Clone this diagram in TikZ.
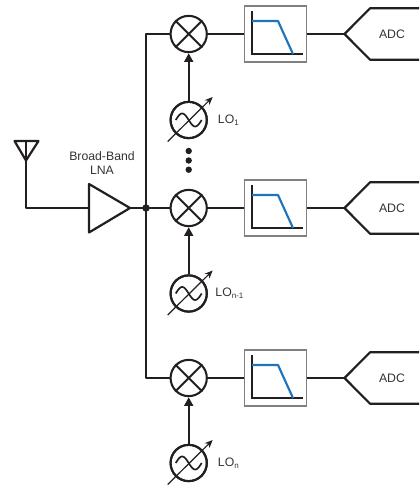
\documentclass[tikz,border=0pt]{standalone}
\usepackage{fontspec}
\setmainfont{Liberation Sans}
\usetikzlibrary{arrows.meta,calc}
\definecolor{txt}{HTML}{333333}
\definecolor{wire}{HTML}{231F20}
\definecolor{boxgray}{HTML}{808080}
\definecolor{lpblue}{HTML}{1F74BC}
\newcommand{\losub}[1]{LO\raisebox{-1.6pt}{\fontsize{6pt}{7pt}\selectfont #1}}
\tikzset{
  wirel/.style={draw=wire,line width=1.65pt,line join=round},
  thinw/.style={draw=wire,line width=1.25pt,line join=round},
  circ/.style={circle,draw=wire,line width=1.55pt,minimum size=27.2pt,inner sep=0pt,fill=white},
  filt/.style={rectangle,draw=boxgray,line width=1.1pt,minimum width=46.6pt,minimum height=42.2pt,inner sep=0pt,fill=white},
  lbl/.style={text=txt,font=\fontsize{9.2pt}{11pt}\selectfont,inner sep=0pt},
  lo/.style={text=txt,font=\fontsize{9.2pt}{11pt}\selectfont,inner sep=0pt,anchor=west},
  feed/.style={wirel,-{Triangle[length=6.5pt,width=6.5pt]}},
  tune/.style={draw=wire,line width=0.9pt,-{Stealth[length=6pt,width=5pt]}},
  axis/.style={draw=wire,line width=1.4pt},
  lpf/.style={draw=lpblue,line width=1.6pt,line join=round}
}
\begin{document}
\begin{tikzpicture}[x=0.75pt,y=-0.75pt]
\useasboundingbox (0,0) rectangle (419,485);

% antenna and input
\coordinate (anttip) at (26,160.5);
\coordinate (antl) at (14.5,141);
\coordinate (antr) at (38.5,141);
\coordinate (anttop) at (26,141);
\coordinate (corner) at (26,208);
\coordinate (ampa) at (89,184);
\coordinate (ampb) at (89,232.5);
\coordinate (ampo) at (130,208);
\coordinate (ampi) at (89,208);
\draw[wirel,line cap=round] (antl) -- (antr) -- (anttip) -- cycle;
\draw[thinw] (anttop) -- (anttip) -- (corner) -- (ampi);
\draw[wirel] (anttip) -- (26,177);
\draw[wirel] (50,208) -- (66,208);
\draw[wirel,line cap=round] (ampa) -- (ampo) -- (ampb) -- cycle;
\node[lbl,align=center] (lnatext) at (102,163.2) {Broad-Band\\LNA};

% bus
\coordinate (bustop) at (146,34);
\coordinate (busbot) at (146,378);
\coordinate (busdot) at (146,208);

\foreach \i/\ym/\yo/\lx/\lab in {1/34/120/29/{\losub{1}},2/208/293.5/26.5/{\losub{n-1}},3/378/463/29/{\losub{n}}}{
  \node[circ] (mix\i) at (188.7,\ym) {};
  \draw[wirel,line width=1.4pt] (mix\i.45) -- (mix\i.225);
  \draw[wirel,line width=1.4pt] (mix\i.135) -- (mix\i.315);
  \node[circ] (osc\i) at (188.7,\yo) {};
  \draw[thinw,shift={(osc\i)}] plot[domain=-13:13,samples=40,smooth] (\x,{6.5*sin(\x*360/26)});
  \coordinate (ts\i) at ($(osc\i)+(-21,21.5)$);
  \coordinate (te\i) at ($(osc\i)+(24,-23)$);
  \draw[tune] (ts\i) -- (te\i);
  \draw[feed] (osc\i) -- (mix\i);
  \node[circ,fill=none] at (osc\i) {};
  \node[lo] (lolab\i) at ($(osc\i)+(\lx,0)$) {\lab};
  \node[filt] (lp\i) at (275.5,\ym) {};
  \draw[axis] ($(lp\i)+(-23.5,-23.4)$) -- ($(lp\i)+(-23.5,20.1)$) -- ($(lp\i)+(27,20.1)$);
  \draw[lpf] ($(lp\i)+(-23.5,-13)$) -- ($(lp\i)+(2.5,-13)$) -- ($(lp\i)+(17.5,20.1)$);
  \coordinate (adc\i) at (344.5,\ym);
  \draw[wirel] (419,\ym-25.7) -- (370,\ym-25.7) -- (adc\i) -- (370,\ym+25.7) -- (419,\ym+25.7);
  \node[lbl] (adct\i) at (392,\ym) {ADC};
  \draw[wirel] (mix\i) -- (lp\i);
  \draw[wirel] (lp\i) -- (adc\i);
}

\draw[wirel] (mix1) -- (bustop) -- (busbot) -- (mix3);
\draw[wirel] (ampo) -- (mix2);
\node[circle,fill=wire,minimum size=5.6pt,inner sep=0pt] (junction) at (busdot) {};

% continuation dots
\foreach \y [count=\n] in {151,160.5,169.7}{
  \node[circle,fill=wire,minimum size=4.8pt,inner sep=0pt] (dot\n) at (188.7,\y) {};
}
\end{tikzpicture}
\end{document}
